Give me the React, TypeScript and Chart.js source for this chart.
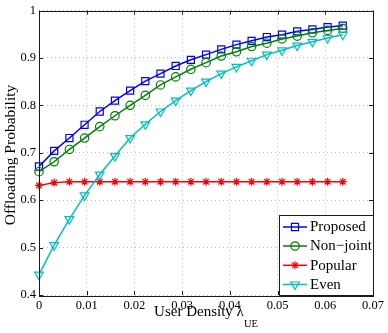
import React, { useEffect, useRef } from 'react';
import { Chart, registerables } from 'chart.js';

Chart.register(...registerables);

const lambda = [0, 0.00318, 0.00637, 0.00955, 0.01273, 0.01592, 0.0191, 0.02228, 0.02546, 0.02865, 0.03183, 0.03501, 0.0382, 0.04138, 0.04456, 0.04775, 0.05093, 0.05411, 0.0573, 0.06048, 0.06366];
const proposed = [0.671, 0.704, 0.731, 0.759, 0.787, 0.81, 0.831, 0.851, 0.867, 0.883, 0.896, 0.907, 0.918, 0.928, 0.936, 0.944, 0.949, 0.956, 0.96, 0.965, 0.968];
const nonJoint = [0.66, 0.681, 0.707, 0.731, 0.755, 0.778, 0.8, 0.821, 0.843, 0.86, 0.876, 0.89, 0.904, 0.913, 0.924, 0.931, 0.94, 0.946, 0.953, 0.958, 0.962];
const popular = [0.631, 0.637, 0.639, 0.639, 0.639, 0.639, 0.639, 0.639, 0.639, 0.639, 0.639, 0.639, 0.639, 0.639, 0.639, 0.639, 0.639, 0.639, 0.639, 0.639, 0.639];
const even = [0.443, 0.505, 0.56, 0.61, 0.654, 0.693, 0.731, 0.76, 0.787, 0.81, 0.831, 0.85, 0.867, 0.881, 0.894, 0.907, 0.916, 0.926, 0.934, 0.942, 0.949];

const seriesNames = ['Proposed', 'Non\u2212joint', 'Popular', 'Even'];
const seriesColors = ['#0000ff', '#008000', '#ff0000', '#00bfbf'];
const seriesMarkers = ['rect', 'circle', 'star', 'triangle'];
const seriesRadius = [5, 4.2, 4, 5];
const seriesRotation = [0, 0, 0, 180];

const xTitle = 'User Density \u03bb';
const xTitleSub = 'UE';
const yTitle = 'Offloading Probability';

const SERIF = '"Liberation Serif", "Times New Roman", serif';

function drawMarker(ctx: CanvasRenderingContext2D, kind: string, x: number, y: number, r: number, color: string) {
  ctx.save();
  ctx.strokeStyle = color;
  ctx.lineWidth = 1.2;
  ctx.beginPath();
  if (kind === 'rect') {
    const s = Math.SQRT1_2 * r;
    ctx.rect(x - s, y - s, 2 * s, 2 * s);
  } else if (kind === 'circle') {
    ctx.arc(x, y, r, 0, Math.PI * 2);
  } else if (kind === 'star') {
    for (let k = 0; k < 4; k++) {
      const a = (k * Math.PI) / 4;
      ctx.moveTo(x - Math.cos(a) * r, y - Math.sin(a) * r);
      ctx.lineTo(x + Math.cos(a) * r, y + Math.sin(a) * r);
    }
  } else if (kind === 'triangle') {
    let a = Math.PI;
    ctx.moveTo(x + Math.sin(a) * r, y - Math.cos(a) * r);
    a += (2 * Math.PI) / 3;
    ctx.lineTo(x + Math.sin(a) * r, y - Math.cos(a) * r);
    a += (2 * Math.PI) / 3;
    ctx.lineTo(x + Math.sin(a) * r, y - Math.cos(a) * r);
    ctx.closePath();
  }
  ctx.stroke();
  ctx.restore();
}

const decorPlugin = {
  id: 'decor',
  afterDraw(chart: any) {
    const { ctx, chartArea } = chart;
    const { left, right, top, bottom } = chartArea;
    const xs = chart.scales.x;
    const ys = chart.scales.y;
    ctx.save();
    // frame
    ctx.strokeStyle = '#1a1a1a';
    ctx.lineWidth = 1;
    ctx.strokeRect(Math.round(left) + 0.5, Math.round(top) + 0.5, Math.round(right - left), Math.round(bottom - top));
    // inner tick marks
    const tl = 4;
    ctx.beginPath();
    xs.ticks.forEach((t: any) => {
      const px = Math.round(xs.getPixelForValue(t.value)) + 0.5;
      ctx.moveTo(px, bottom);
      ctx.lineTo(px, bottom - tl);
      ctx.moveTo(px, top);
      ctx.lineTo(px, top + tl);
    });
    ys.ticks.forEach((t: any) => {
      const py = Math.round(ys.getPixelForValue(t.value)) + 0.5;
      ctx.moveTo(left, py);
      ctx.lineTo(left + tl, py);
      ctx.moveTo(right, py);
      ctx.lineTo(right - tl, py);
    });
    ctx.stroke();

    // x title with subscript
    ctx.fillStyle = '#000';
    ctx.textBaseline = 'alphabetic';
    ctx.textAlign = 'left';
    const mainFont = '15px ' + SERIF;
    const subFont = '10.5px ' + SERIF;
    ctx.font = mainFont;
    const w1 = ctx.measureText(xTitle).width;
    ctx.font = subFont;
    const w2 = ctx.measureText(xTitleSub).width;
    const cx = (left + right) / 2;
    const sx = cx - (w1 + w2) / 2;
    ctx.font = mainFont;
    ctx.fillText(xTitle, sx, 316);
    ctx.font = subFont;
    ctx.fillText(xTitleSub, sx + w1, 327);

    // y title
    ctx.save();
    ctx.translate(11, 155);
    ctx.rotate(-Math.PI / 2);
    ctx.font = '15.5px ' + SERIF;
    ctx.textAlign = 'center';
    ctx.textBaseline = 'middle';
    ctx.fillText(yTitle, 0, 0);
    ctx.restore();

    // legend
    const lx0 = 279;
    const ly0 = 215;
    const lx1 = Math.round(right);
    const ly1 = Math.round(bottom);
    ctx.fillStyle = '#fff';
    ctx.fillRect(lx0, ly0, lx1 - lx0, ly1 - ly0);
    ctx.strokeStyle = '#1a1a1a';
    ctx.strokeRect(lx0 + 0.5, ly0 + 0.5, lx1 - lx0, ly1 - ly0);
    const rows = [227, 246, 265.3, 284.5];
    seriesNames.forEach((name, i) => {
      const y = rows[i];
      ctx.strokeStyle = seriesColors[i];
      ctx.lineWidth = 1.5;
      ctx.beginPath();
      ctx.moveTo(283, y);
      ctx.lineTo(307, y);
      ctx.stroke();
      drawMarker(ctx, seriesMarkers[i], 295, y, seriesRadius[i], seriesColors[i]);
      ctx.fillStyle = '#000';
      ctx.font = '15px ' + SERIF;
      ctx.textAlign = 'left';
      ctx.textBaseline = 'middle';
      ctx.fillText(name, 310, y + 0.5);
    });
    ctx.restore();
  },
};

export default function App() {
  const ref = useRef<HTMLCanvasElement | null>(null);
  useEffect(() => {
    if (!ref.current) return;
    const allSeries = [proposed, nonJoint, popular, even];
    const chart = new Chart(ref.current, {
      type: 'line',
      data: {
        datasets: allSeries.map((vals, i) => ({
          label: seriesNames[i],
          data: lambda.map((x, k) => ({ x, y: vals[k] })),
          borderColor: seriesColors[i],
          backgroundColor: 'transparent',
          borderWidth: 1.5,
          pointStyle: seriesMarkers[i] as any,
          pointRadius: seriesRadius[i],
          pointRotation: seriesRotation[i],
          pointBorderColor: seriesColors[i],
          pointBackgroundColor: 'rgba(0,0,0,0)',
          pointBorderWidth: 1.2,
          tension: 0,
          fill: false,
          clip: false as any,
          order: 3 - i,
        })),
      },
      options: {
        animation: false,
        responsive: true,
        maintainAspectRatio: false,
        layout: { padding: { top: 7, right: 15, left: 0, bottom: 0 } },
        plugins: {
          legend: { display: false },
          tooltip: { enabled: false },
          title: { display: false },
        },
        events: [],
        scales: {
          x: {
            type: 'linear',
            min: 0,
            max: 0.07,
            afterFit: (s: any) => {
              s.height = 38;
            },
            ticks: {
              stepSize: 0.01,
              color: '#000',
              padding: 3,
              maxRotation: 0,
              autoSkip: false,
              font: { family: SERIF, size: 12.5 },
              callback: (v: any) => (Number(v) === 0 ? '0' : String(Number(Number(v).toFixed(2)))),
            },
            grid: { color: '#bdbdbd', lineWidth: 1, drawTicks: false },
            border: { display: false, dash: [1, 3] },
          },
          y: {
            type: 'linear',
            min: 0.4,
            max: 1,
            afterFit: (s: any) => {
              s.width = 39;
            },
            ticks: {
              stepSize: 0.1,
              color: '#000',
              padding: 3,
              autoSkip: false,
              font: { family: SERIF, size: 12.5 },
              callback: (v: any) => String(Number(Number(v).toFixed(1))),
            },
            grid: { color: '#bdbdbd', lineWidth: 1, drawTicks: false },
            border: { display: false, dash: [1, 3] },
          },
        },
      },
      plugins: [decorPlugin],
    });
    return () => chart.destroy();
  }, []);
  return (
    <div style={{ position: 'fixed', left: 0, top: 0, width: 388, height: 333, background: '#fff' }}>
      <canvas ref={ref} />
    </div>
  );
}
